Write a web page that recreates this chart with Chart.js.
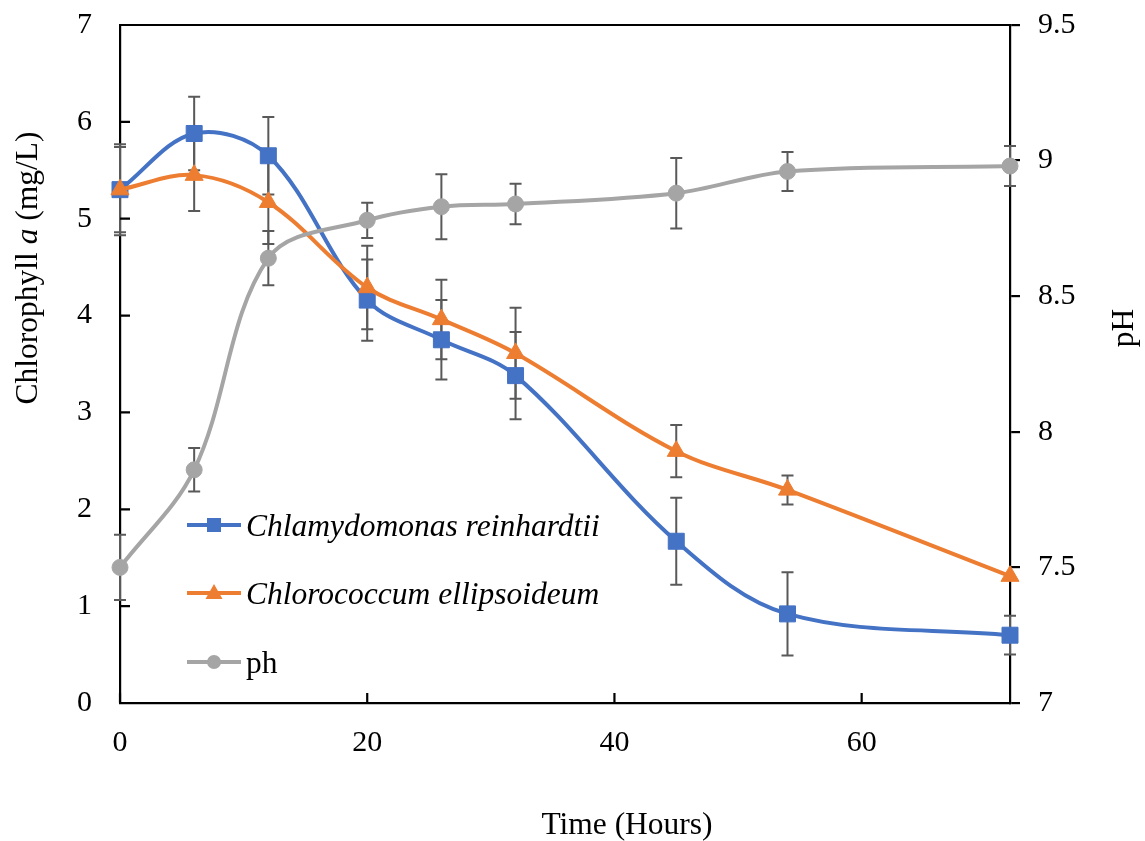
<!DOCTYPE html>
<html>
<head>
<meta charset="utf-8">
<script src="https://cdn.jsdelivr.net/npm/chart.js"></script>
<style>
  html, body { margin: 0; padding: 0; background: #fff; }
  canvas { display: block; }
</style>
</head>
<body>
<canvas id="myChart" width="1145" height="841"></canvas>
<script>
  // sampling times (hours)
  const hours = [0, 6, 12, 20, 26, 32, 45, 54, 72];

  // chlorophyll a (mg/L), mean and error
  const chlamy = [5.30, 5.88, 5.65, 4.16, 3.75, 3.38, 1.67, 0.92, 0.70];
  const chlamyErr = [0.47, 0.38, 0.40, 0.42, 0.41, 0.45, 0.45, 0.43, 0.20];
  const chloro = [5.30, 5.45, 5.17, 4.29, 3.96, 3.61, 2.60, 2.20, 1.31];
  const chloroErr = [0.44, 0.37, 0.43, 0.43, 0.41, 0.47, 0.27, 0.15, 0];

  // pH of the medium (right axis)
  const ph = [7.50, 7.86, 8.64, 8.78, 8.83, 8.84, 8.88, 8.96, 8.98];
  const phErr = [0.12, 0.08, 0.10, 0.065, 0.12, 0.075, 0.13, 0.072, 0.074];

  const seriesNames = ['Chlamydomonas reinhardtii', 'Chlorococcum ellipsoideum', 'ph'];
  const colors = ['#4472C4', '#ED7D31', '#A5A5A5'];

  const serif = "'Liberation Serif', 'Times New Roman', serif";
  Chart.defaults.font.family = serif;
  Chart.defaults.color = '#000';

  function points(values) {
    return hours.map((h, i) => ({ x: h, y: values[i] }));
  }

  // fixed box sizes so the plot area sits where it should
  function fixBox(size) {
    return s => {
      if (s.isHorizontal()) {
        s.height = size;
        s.paddingLeft = 0;
        s.paddingRight = 0;
      } else {
        s.width = size;
        s.paddingTop = 0;
        s.paddingBottom = 0;
      }
    };
  }

  // vertical error bars with caps, drawn under the markers
  const errorBars = {
    id: 'errorBars',
    beforeDatasetsDraw(chart) {
      const ctx = chart.ctx;
      const xs = chart.scales.x;
      ctx.save();
      ctx.strokeStyle = '#595959';
      ctx.lineWidth = 2;
      chart.data.datasets.forEach(ds => {
        const ys = chart.scales[ds.yAxisID];
        ds.data.forEach((p, j) => {
          const e = ds.errors[j];
          if (!e) return;
          const x = xs.getPixelForValue(p.x);
          const top = ys.getPixelForValue(p.y + e);
          const bot = ys.getPixelForValue(p.y - e);
          ctx.beginPath();
          ctx.moveTo(x, top); ctx.lineTo(x, bot);
          ctx.moveTo(x - 6, top); ctx.lineTo(x + 6, top);
          ctx.moveTo(x - 6, bot); ctx.lineTo(x + 6, bot);
          ctx.stroke();
        });
      });
      ctx.restore();
    }
  };

  // top frame line and inward tick marks on the left and bottom axes
  const frame = {
    id: 'frame',
    beforeDatasetsDraw(chart) {
      const { ctx, chartArea: a } = chart;
      ctx.save();
      ctx.strokeStyle = '#000';
      ctx.lineWidth = 2.2;
      ctx.beginPath();
      ctx.moveTo(a.left, a.top); ctx.lineTo(a.right, a.top);
      chart.scales.y.ticks.forEach(t => {
        const y = chart.scales.y.getPixelForValue(t.value);
        ctx.moveTo(a.left, y); ctx.lineTo(a.left + 10, y);
      });
      chart.scales.x.ticks.forEach(t => {
        const x = chart.scales.x.getPixelForValue(t.value);
        ctx.moveTo(x, a.bottom); ctx.lineTo(x, a.bottom - 10);
      });
      ctx.stroke();
      ctx.restore();
    },
    afterDraw(chart) {
      const ctx = chart.ctx;
      ctx.save();
      ctx.fillStyle = '#000';
      ctx.textBaseline = 'middle';

      // x title
      ctx.font = '31.5px ' + serif;
      ctx.textAlign = 'center';
      ctx.fillText('Time (Hours)', 627, 826);

      // left title, "a" in italics
      const parts = [['Chlorophyll ', ''], ['a', 'italic '], [' (mg/L)', '']];
      let total = 0;
      parts.forEach(p => { ctx.font = p[1] + '31.5px ' + serif; total += ctx.measureText(p[0]).width; });
      ctx.translate(29, 268);
      ctx.rotate(-Math.PI / 2);
      ctx.textAlign = 'left';
      let pos = -total / 2;
      parts.forEach(p => {
        ctx.font = p[1] + '31.5px ' + serif;
        ctx.fillText(p[0], pos, 0);
        pos += ctx.measureText(p[0]).width;
      });
      ctx.setTransform(1, 0, 0, 1, 0, 0);

      // right title
      ctx.translate(1125, 328);
      ctx.rotate(-Math.PI / 2);
      ctx.textAlign = 'center';
      ctx.font = '31.5px ' + serif;
      ctx.fillText('pH', 0, 0);
      ctx.setTransform(1, 0, 0, 1, 0, 0);
      ctx.restore();
    }
  };

  // legend placed inside the plot, lower left
  const insideLegend = {
    id: 'insideLegend',
    afterDraw(chart) {
      const ctx = chart.ctx;
      const rows = [525, 593, 662];
      ctx.save();
      chart.data.datasets.forEach((ds, i) => {
        const y = rows[i];
        ctx.strokeStyle = ds.borderColor;
        ctx.lineWidth = 4;
        ctx.beginPath();
        ctx.moveTo(187, y); ctx.lineTo(241, y);
        ctx.stroke();
        ctx.fillStyle = ds.borderColor;
        ctx.beginPath();
        if (ds.pointStyle === 'rect') {
          ctx.rect(214 - 7, y - 7, 14, 14);
        } else if (ds.pointStyle === 'triangle') {
          ctx.moveTo(214, y - 9);
          ctx.lineTo(214 + 8.5, y + 6);
          ctx.lineTo(214 - 8.5, y + 6);
          ctx.closePath();
        } else {
          ctx.arc(214, y, 7, 0, Math.PI * 2);
        }
        ctx.fill();
        ctx.fillStyle = '#000';
        ctx.textAlign = 'left';
        ctx.textBaseline = 'alphabetic';
        ctx.font = (i < 2 ? 'italic ' : '') + '31.5px ' + serif;
        ctx.fillText(ds.label, 246, y + 11);
      });
      ctx.restore();
    }
  };

  const lineDefaults = {
    borderWidth: 4,
    tension: 0.35,
    clip: false,
    pointBorderWidth: 1
  };

  let ctx = document.getElementById('myChart').getContext('2d');

  let chart = new Chart(ctx, {
    type: 'line',
    data: {
      datasets: [{
        ...lineDefaults,
        label: seriesNames[0],
        data: points(chlamy),
        errors: chlamyErr,
        yAxisID: 'y',
        borderColor: colors[0],
        backgroundColor: colors[0],
        pointStyle: 'rect',
        pointRadius: 11.3,
        order: 2
      },
      {
        ...lineDefaults,
        label: seriesNames[1],
        data: points(chloro),
        errors: chloroErr,
        yAxisID: 'y',
        borderColor: colors[1],
        backgroundColor: colors[1],
        pointStyle: 'triangle',
        pointRadius: 10.4,
        order: 1
      },
      {
        ...lineDefaults,
        label: seriesNames[2],
        data: points(ph),
        errors: phErr,
        yAxisID: 'y2',
        borderColor: colors[2],
        backgroundColor: colors[2],
        pointStyle: 'circle',
        pointRadius: 8,
        order: 0
      }]
    },
    options: {
      responsive: false,
      animation: false,
      devicePixelRatio: 1,
      layout: { autoPadding: false, padding: { top: 25, left: 0, right: 0, bottom: 0 } },
      plugins: {
        legend: { display: false },
        tooltip: { enabled: false }
      },
      scales: {
        x: {
          type: 'linear',
          min: 0,
          max: 72,
          afterFit: fixBox(138),
          grid: { display: false, drawTicks: false },
          border: { display: true, color: '#000', width: 2.2 },
          ticks: {
            stepSize: 20,
            includeBounds: false,
            padding: 22,
            font: { size: 30 },
            callback: v => String(v)
          }
        },
        y: {
          position: 'left',
          min: 0,
          max: 7,
          afterFit: fixBox(120),
          grid: { display: false, drawTicks: false },
          border: { display: true, color: '#000', width: 2.2 },
          ticks: {
            stepSize: 1,
            padding: 28,
            font: { size: 30 },
            callback: v => String(v)
          }
        },
        y2: {
          position: 'right',
          min: 7,
          max: 9.5,
          afterFit: fixBox(135),
          grid: {
            display: true,
            drawOnChartArea: false,
            drawTicks: true,
            tickLength: 10,
            color: '#000',
            lineWidth: 2.2
          },
          border: { display: true, color: '#000', width: 2.2 },
          ticks: {
            stepSize: 0.5,
            padding: 18,
            font: { size: 30 },
            callback: v => String(v)
          }
        }
      }
    },
    plugins: [errorBars, frame, insideLegend]
  });
</script>
</body>
</html>
